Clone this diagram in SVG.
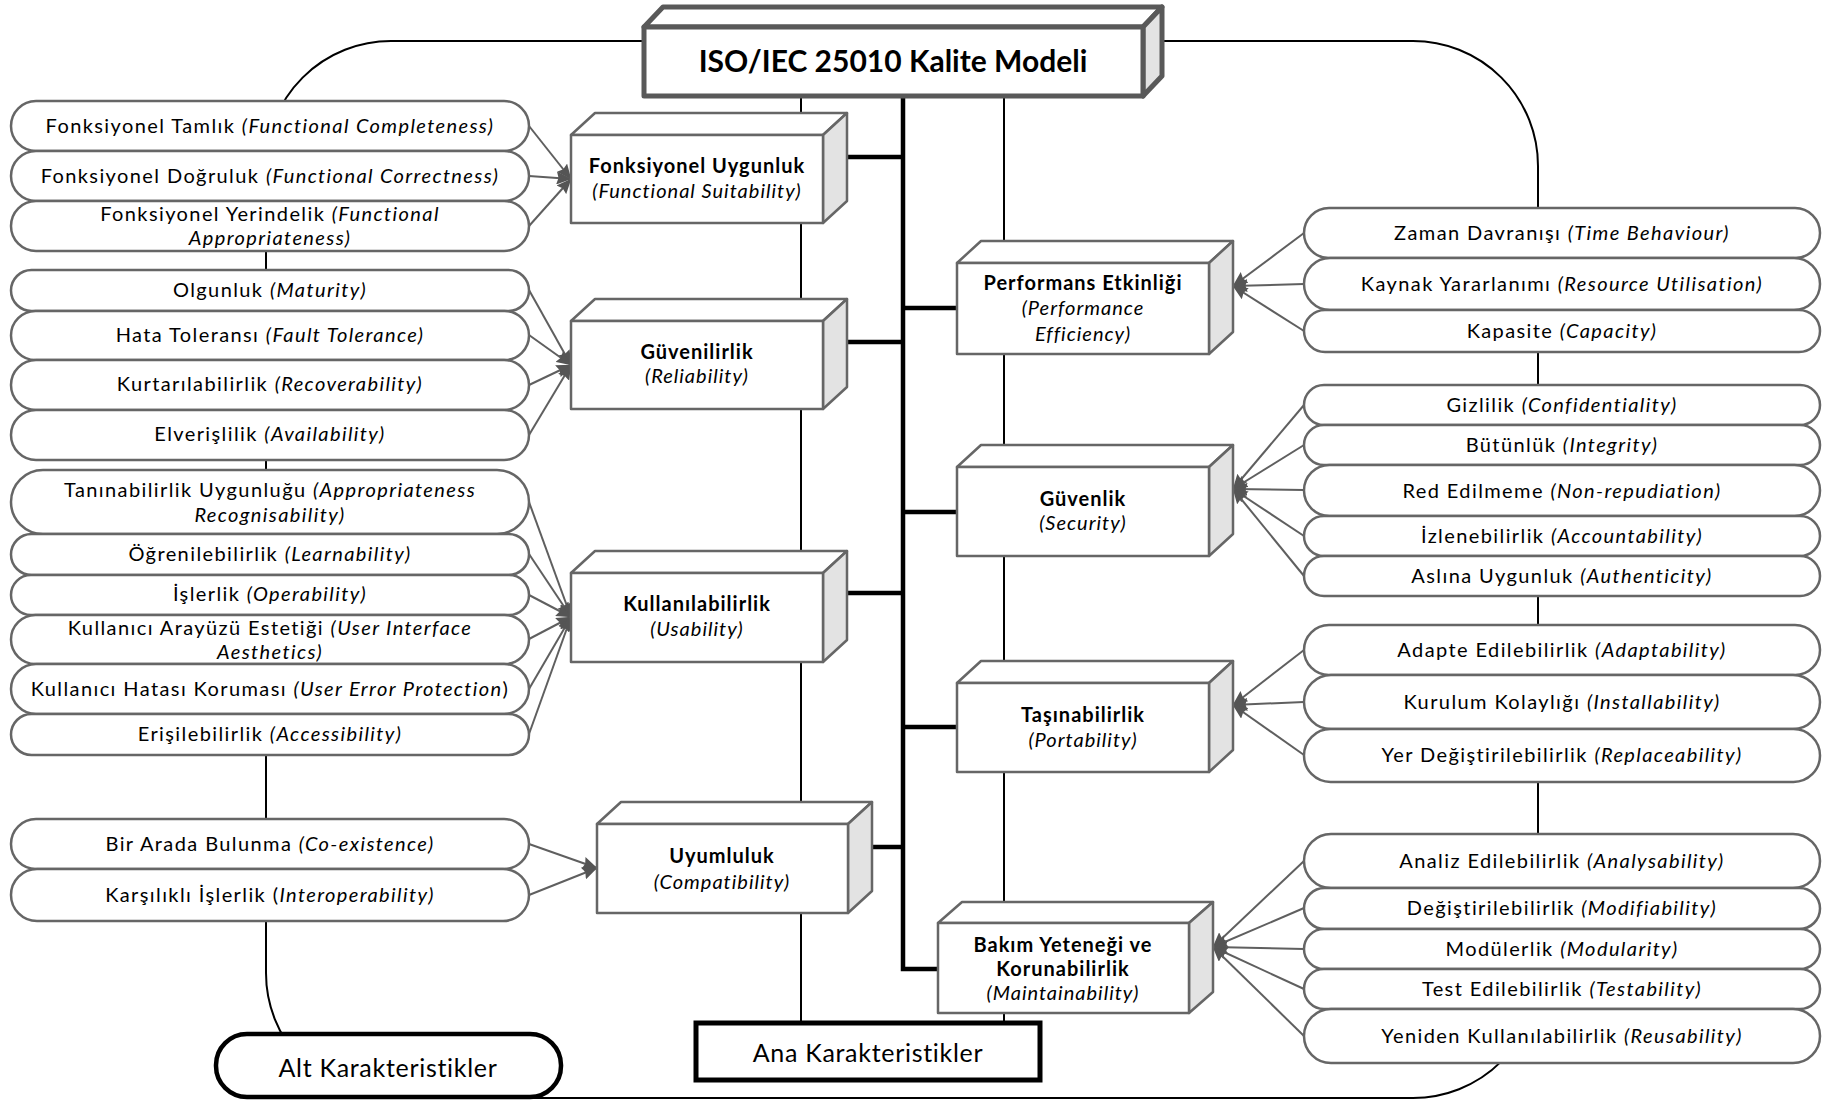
<svg xmlns="http://www.w3.org/2000/svg" width="1822" height="1101" viewBox="0 0 1822 1101">
<style>
text{font-family:Lato,"Noto Sans","DejaVu Sans",sans-serif;fill:#000;}
.ov{fill:#fff;stroke:#666;stroke-width:2.5;}
.ot{font-size:20px;text-anchor:middle;letter-spacing:1.4px;}
.bt{font-size:20px;text-anchor:middle;letter-spacing:1px;}
.b{font-weight:bold;}
.i{font-style:italic;}
.front{fill:#fff;stroke:#666;stroke-width:2.5;stroke-linejoin:round;}
.top{fill:#fff;stroke:#666;stroke-width:2.5;stroke-linejoin:round;}
.side{fill:#e3e3e3;stroke:#666;stroke-width:2.5;stroke-linejoin:round;}
.thin{stroke:#000;stroke-width:2;fill:none;}
.thick{stroke:#000;stroke-width:4.5;fill:none;}
.arr{stroke:#5f5f5f;stroke-width:2;fill:none;marker-end:url(#ah);}
.lbl{font-size:25px;text-anchor:middle;letter-spacing:0.7px;}
</style>
<defs>
<marker id="ah" viewBox="0 0 15 13" refX="14.5" refY="6.5" markerWidth="15" markerHeight="13" markerUnits="userSpaceOnUse" orient="auto">
<path d="M0,0 L15,6.5 L0,13 L2,6.5 z" fill="#555"/>
</marker>
</defs>
<rect width="1822" height="1101" fill="#fff"/>
<g id="connectors">
<rect x="266" y="41" width="1272" height="1057" rx="125" ry="125" class="thin"/>
<line x1="801" y1="96" x2="801" y2="1023" class="thin"/>
<line x1="1004" y1="96" x2="1004" y2="1023" class="thin"/>
<polyline points="903,96 903,969 938,969" class="thick"/>
<line x1="847" y1="157" x2="903" y2="157" class="thick"/>
<line x1="847" y1="342" x2="903" y2="342" class="thick"/>
<line x1="847" y1="593" x2="903" y2="593" class="thick"/>
<line x1="872" y1="847" x2="903" y2="847" class="thick"/>
<line x1="903" y1="308" x2="957" y2="308" class="thick"/>
<line x1="903" y1="512" x2="957" y2="512" class="thick"/>
<line x1="903" y1="727" x2="957" y2="727" class="thick"/>
<line x1="529" y1="126" x2="571" y2="179" class="arr"/>
<line x1="529" y1="176" x2="571" y2="179" class="arr"/>
<line x1="529" y1="226" x2="571" y2="179" class="arr"/>
<line x1="529" y1="290" x2="571" y2="365" class="arr"/>
<line x1="529" y1="335" x2="571" y2="365" class="arr"/>
<line x1="529" y1="385" x2="571" y2="365" class="arr"/>
<line x1="529" y1="435" x2="571" y2="365" class="arr"/>
<line x1="529" y1="502" x2="571" y2="617" class="arr"/>
<line x1="529" y1="554" x2="571" y2="617" class="arr"/>
<line x1="529" y1="595" x2="571" y2="617" class="arr"/>
<line x1="529" y1="639" x2="571" y2="617" class="arr"/>
<line x1="529" y1="689" x2="571" y2="617" class="arr"/>
<line x1="529" y1="734" x2="571" y2="617" class="arr"/>
<line x1="529" y1="844" x2="597" y2="868" class="arr"/>
<line x1="529" y1="895" x2="597" y2="868" class="arr"/>
<line x1="1304" y1="233" x2="1233" y2="286" class="arr"/>
<line x1="1304" y1="284" x2="1233" y2="286" class="arr"/>
<line x1="1304" y1="331" x2="1233" y2="286" class="arr"/>
<line x1="1304" y1="405" x2="1233" y2="489" class="arr"/>
<line x1="1304" y1="445" x2="1233" y2="489" class="arr"/>
<line x1="1304" y1="490" x2="1233" y2="489" class="arr"/>
<line x1="1304" y1="536" x2="1233" y2="489" class="arr"/>
<line x1="1304" y1="576" x2="1233" y2="489" class="arr"/>
<line x1="1304" y1="650" x2="1233" y2="705" class="arr"/>
<line x1="1304" y1="702" x2="1233" y2="705" class="arr"/>
<line x1="1304" y1="755" x2="1233" y2="705" class="arr"/>
<line x1="1304" y1="861" x2="1213" y2="947" class="arr"/>
<line x1="1304" y1="908" x2="1213" y2="947" class="arr"/>
<line x1="1304" y1="949" x2="1213" y2="947" class="arr"/>
<line x1="1304" y1="989" x2="1213" y2="947" class="arr"/>
<line x1="1304" y1="1036" x2="1213" y2="947" class="arr"/>
</g>

<g id="title">
<polygon points="644,27 663,7 1162,7 1143,27" class="top" style="stroke:#595959;stroke-width:5"/>
<polygon points="1143,27 1162,7 1162,76 1143,96" class="side" style="stroke:#595959;stroke-width:5"/>
<rect x="644" y="27" width="499" height="69" class="front" style="stroke:#595959;stroke-width:5"/>
<text x="893" y="72" class="b" style="font-size:30px;text-anchor:middle">ISO/IEC 25010 Kalite Modeli</text>
</g>

<g id="fonksiyonel-uygunluk">
<polygon points="571,135 595,113 847,113 823,135" class="top"/>
<polygon points="823,135 847,113 847,201 823,223" class="side"/>
<rect x="571" y="135" width="252" height="88" class="front"/>
<text x="697" y="173" class="bt b">Fonksiyonel Uygunluk</text>
<text x="697" y="198" class="bt i">(Functional Suitability)</text>
</g>
<g id="guvenilirlik">
<polygon points="571,321 595,299 847,299 823,321" class="top"/>
<polygon points="823,321 847,299 847,387 823,409" class="side"/>
<rect x="571" y="321" width="252" height="88" class="front"/>
<text x="697" y="359" class="bt b">Güvenilirlik</text>
<text x="697" y="383" class="bt i">(Reliability)</text>
</g>
<g id="kullanilabilirlik">
<polygon points="571,573 595,551 847,551 823,573" class="top"/>
<polygon points="823,573 847,551 847,640 823,662" class="side"/>
<rect x="571" y="573" width="252" height="89" class="front"/>
<text x="697" y="611" class="bt b">Kullanılabilirlik</text>
<text x="697" y="636" class="bt i">(Usability)</text>
</g>
<g id="uyumluluk">
<polygon points="597,824 621,802 872,802 848,824" class="top"/>
<polygon points="848,824 872,802 872,891 848,913" class="side"/>
<rect x="597" y="824" width="251" height="89" class="front"/>
<text x="722" y="863" class="bt b">Uyumluluk</text>
<text x="722" y="889" class="bt i">(Compatibility)</text>
</g>
<g id="performans">
<polygon points="957,263 981,241 1233,241 1209,263" class="top"/>
<polygon points="1209,263 1233,241 1233,332 1209,354" class="side"/>
<rect x="957" y="263" width="252" height="91" class="front"/>
<text x="1083" y="290" class="bt b">Performans Etkinliği</text>
<text x="1083" y="315" class="bt i">(Performance</text>
<text x="1083" y="341" class="bt i">Efficiency)</text>
</g>
<g id="guvenlik">
<polygon points="957,467 981,445 1233,445 1209,467" class="top"/>
<polygon points="1209,467 1233,445 1233,534 1209,556" class="side"/>
<rect x="957" y="467" width="252" height="89" class="front"/>
<text x="1083" y="506" class="bt b">Güvenlik</text>
<text x="1083" y="530" class="bt i">(Security)</text>
</g>
<g id="tasinabilirlik">
<polygon points="957,683 981,661 1233,661 1209,683" class="top"/>
<polygon points="1209,683 1233,661 1233,750 1209,772" class="side"/>
<rect x="957" y="683" width="252" height="89" class="front"/>
<text x="1083" y="722" class="bt b">Taşınabilirlik</text>
<text x="1083" y="747" class="bt i">(Portability)</text>
</g>
<g id="bakim">
<polygon points="938,923 962,902 1213,902 1189,923" class="top"/>
<polygon points="1189,923 1213,902 1213,992 1189,1013" class="side"/>
<rect x="938" y="923" width="251" height="90" class="front"/>
<text x="1063" y="952" class="bt b">Bakım Yeteneği ve</text>
<text x="1063" y="976" class="bt b">Korunabilirlik</text>
<text x="1063" y="1000" class="bt i">(Maintainability)</text>
</g>

<g id="ana-karakteristikler">
<rect x="696" y="1023" width="344" height="57" fill="#fff" stroke="#000" stroke-width="5"/>
<text x="868" y="1062" class="lbl">Ana Karakteristikler</text>
</g>
<g id="alt-karakteristikler">
<rect x="216" y="1034" width="345" height="63" rx="31" ry="31" fill="#fff" stroke="#000" stroke-width="4.5"/>
<text x="388" y="1077" class="lbl">Alt Karakteristikler</text>
</g>

<g id="sub-left">
<g id="s-tamlik"><rect x="11" y="101" width="518" height="50" rx="25" class="ov"/><text x="270" y="133" class="ot">Fonksiyonel Tamlık <tspan class="i">(Functional Completeness)</tspan></text></g>
<g id="s-dogruluk"><rect x="11" y="151" width="518" height="50" rx="25" class="ov"/><text x="270" y="183" class="ot">Fonksiyonel Doğruluk <tspan class="i">(Functional Correctness)</tspan></text></g>
<g id="s-yerindelik"><rect x="11" y="201" width="518" height="50" rx="25" class="ov"/><text x="270" y="221" class="ot">Fonksiyonel Yerindelik <tspan class="i">(Functional</tspan></text><text x="270" y="245" class="ot i">Appropriateness)</text></g>
<g id="s-olgunluk"><rect x="11" y="270" width="518" height="41" rx="20.5" class="ov"/><text x="270" y="297" class="ot">Olgunluk <tspan class="i">(Maturity)</tspan></text></g>
<g id="s-hata"><rect x="11" y="311" width="518" height="49" rx="24.5" class="ov"/><text x="270" y="342" class="ot">Hata Toleransı <tspan class="i">(Fault Tolerance)</tspan></text></g>
<g id="s-kurtarilabilirlik"><rect x="11" y="360" width="518" height="50" rx="25" class="ov"/><text x="270" y="391" class="ot">Kurtarılabilirlik <tspan class="i">(Recoverability)</tspan></text></g>
<g id="s-elverislilik"><rect x="11" y="410" width="518" height="50" rx="25" class="ov"/><text x="270" y="441" class="ot">Elverişlilik <tspan class="i">(Availability)</tspan></text></g>
<g id="s-taninabilirlik"><rect x="11" y="470" width="518" height="64" rx="32" class="ov"/><text x="270" y="497" class="ot">Tanınabilirlik Uygunluğu <tspan class="i">(Appropriateness</tspan></text><text x="270" y="522" class="ot i">Recognisability)</text></g>
<g id="s-ogrenilebilirlik"><rect x="11" y="534" width="518" height="41" rx="20.5" class="ov"/><text x="270" y="561" class="ot">Öğrenilebilirlik <tspan class="i">(Learnability)</tspan></text></g>
<g id="s-islerlik"><rect x="11" y="575" width="518" height="40" rx="20" class="ov"/><text x="270" y="601" class="ot">İşlerlik <tspan class="i">(Operability)</tspan></text></g>
<g id="s-arayuz"><rect x="11" y="615" width="518" height="49" rx="24.5" class="ov"/><text x="270" y="635" class="ot">Kullanıcı Arayüzü Estetiği <tspan class="i">(User Interface</tspan></text><text x="270" y="659" class="ot i">Aesthetics)</text></g>
<g id="s-hatasi"><rect x="11" y="664" width="518" height="50" rx="25" class="ov"/><text x="270" y="696" class="ot">Kullanıcı Hatası Koruması <tspan class="i">(User Error Protection</tspan>)</text></g>
<g id="s-erisilebilirlik"><rect x="11" y="714" width="518" height="41" rx="20.5" class="ov"/><text x="270" y="741" class="ot">Erişilebilirlik <tspan class="i">(Accessibility)</tspan></text></g>
<g id="s-birarada"><rect x="11" y="819" width="518" height="50" rx="25" class="ov"/><text x="270" y="851" class="ot">Bir Arada Bulunma <tspan class="i">(Co-existence)</tspan></text></g>
<g id="s-karsilikli"><rect x="11" y="869" width="518" height="52" rx="26" class="ov"/><text x="270" y="902" class="ot">Karşılıklı İşlerlik (<tspan class="i">Interoperability)</tspan></text></g>
</g>

<g id="sub-right">
<g id="s-zaman"><rect x="1304" y="208" width="516" height="50" rx="25" class="ov"/><text x="1562" y="240" class="ot">Zaman Davranışı <tspan class="i">(Time Behaviour)</tspan></text></g>
<g id="s-kaynak"><rect x="1304" y="258" width="516" height="52" rx="26" class="ov"/><text x="1562" y="291" class="ot">Kaynak Yararlanımı <tspan class="i">(Resource Utilisation)</tspan></text></g>
<g id="s-kapasite"><rect x="1304" y="310" width="516" height="42" rx="21" class="ov"/><text x="1562" y="338" class="ot">Kapasite <tspan class="i">(Capacity)</tspan></text></g>
<g id="s-gizlilik"><rect x="1304" y="385" width="516" height="40" rx="20" class="ov"/><text x="1562" y="412" class="ot">Gizlilik <tspan class="i">(Confidentiality)</tspan></text></g>
<g id="s-butunluk"><rect x="1304" y="425" width="516" height="40" rx="20" class="ov"/><text x="1562" y="452" class="ot">Bütünlük <tspan class="i">(Integrity)</tspan></text></g>
<g id="s-red"><rect x="1304" y="465" width="516" height="51" rx="25.5" class="ov"/><text x="1562" y="498" class="ot">Red Edilmeme <tspan class="i">(Non-repudiation)</tspan></text></g>
<g id="s-izlenebilirlik"><rect x="1304" y="516" width="516" height="40" rx="20" class="ov"/><text x="1562" y="543" class="ot">İzlenebilirlik <tspan class="i">(Accountability)</tspan></text></g>
<g id="s-aslina"><rect x="1304" y="556" width="516" height="40" rx="20" class="ov"/><text x="1562" y="583" class="ot">Aslına Uygunluk <tspan class="i">(Authenticity)</tspan></text></g>
<g id="s-adapte"><rect x="1304" y="625" width="516" height="50" rx="25" class="ov"/><text x="1562" y="657" class="ot">Adapte Edilebilirlik <tspan class="i">(Adaptability)</tspan></text></g>
<g id="s-kurulum"><rect x="1304" y="675" width="516" height="54" rx="27" class="ov"/><text x="1562" y="709" class="ot">Kurulum Kolaylığı <tspan class="i">(Installability)</tspan></text></g>
<g id="s-yer"><rect x="1304" y="729" width="516" height="53" rx="26.5" class="ov"/><text x="1562" y="762" class="ot">Yer Değiştirilebilirlik <tspan class="i">(Replaceability)</tspan></text></g>
<g id="s-analiz"><rect x="1304" y="834" width="516" height="54" rx="27" class="ov"/><text x="1562" y="868" class="ot">Analiz Edilebilirlik <tspan class="i">(Analysability)</tspan></text></g>
<g id="s-degistirilebilirlik"><rect x="1304" y="888" width="516" height="41" rx="20.5" class="ov"/><text x="1562" y="915" class="ot">Değiştirilebilirlik <tspan class="i">(Modifiability)</tspan></text></g>
<g id="s-modulerlik"><rect x="1304" y="929" width="516" height="40" rx="20" class="ov"/><text x="1562" y="956" class="ot">Modülerlik <tspan class="i">(Modularity)</tspan></text></g>
<g id="s-test"><rect x="1304" y="969" width="516" height="40" rx="20" class="ov"/><text x="1562" y="996" class="ot">Test Edilebilirlik <tspan class="i">(Testability)</tspan></text></g>
<g id="s-yeniden"><rect x="1304" y="1009" width="516" height="54" rx="27" class="ov"/><text x="1562" y="1043" class="ot">Yeniden Kullanılabilirlik <tspan class="i">(Reusability)</tspan></text></g>
</g>
</svg>
